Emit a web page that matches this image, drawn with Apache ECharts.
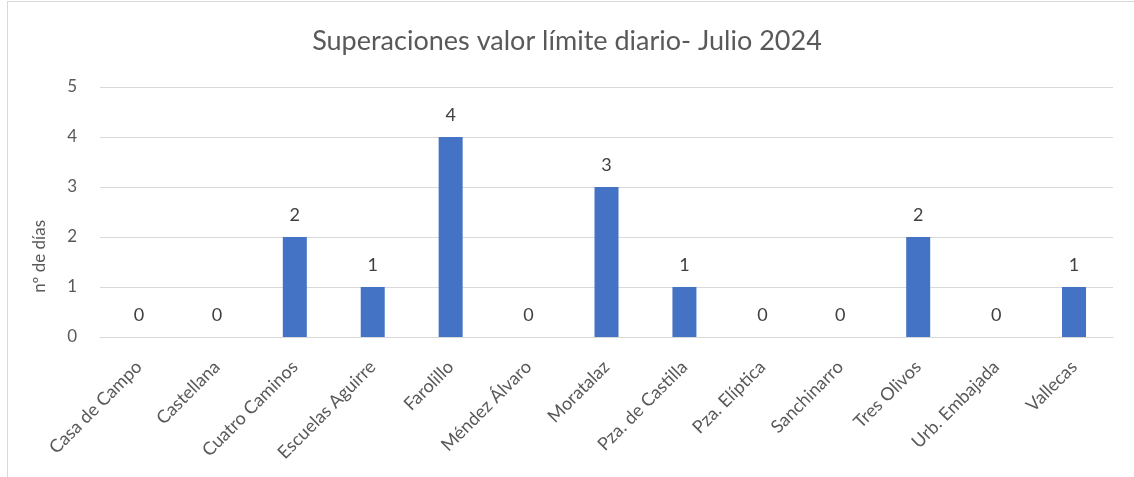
<!DOCTYPE html>
<html>
<head>
<meta charset="utf-8">
<script src="https://cdn.jsdelivr.net/npm/echarts@6/dist/echarts.min.js"></script>
<style>
  html, body { margin: 0; padding: 0; background: #fff; }
  #frame { position: absolute; left: 7px; top: 1px; width: 1140px; height: 490px;
           border-left: 1px solid #d9d9d9; border-top: 1px solid #d9d9d9; }
  #chart { position: absolute; left: 0; top: 0; width: 1134px; height: 477px; }
</style>
</head>
<body>
<div id="frame"></div>
<div id="chart"></div>
<script>
// stations and number of days over the daily limit
const stations = [
  "Casa de Campo", "Castellana", "Cuatro Caminos", "Escuelas Aguirre", "Farolillo",
  "Méndez Álvaro", "Moratalaz", "Pza. de Castilla", "Pza. Elíptica", "Sanchinarro",
  "Tres Olivos", "Urb. Embajada", "Vallecas"
]
const days = [0, 0, 2, 1, 4, 0, 3, 1, 0, 0, 2, 0, 1]
const yTicks = [0, 1, 2, 3, 4, 5]

const font = "Lato, 'Open Sans', sans-serif"
const grey = "#595959"

const chart = echarts.init(document.getElementById("chart"))
chart.setOption({
  animation: false,
  title: {
    text: "Superaciones valor límite diario- Julio 2024",
    left: "center",
    top: 23,
    textStyle: { fontFamily: font, fontSize: 27, fontWeight: "normal", color: grey }
  },
  grid: { left: 100, right: 21, top: 87, bottom: 140 },
  xAxis: {
    type: "category",
    data: stations,
    axisLine: { lineStyle: { color: "#d9d9d9", width: 1 } },
    axisTick: { show: false },
    axisLabel: { rotate: 45, margin: 27, interval: 0, fontFamily: font, fontSize: 18, color: grey }
  },
  yAxis: {
    type: "value",
    min: yTicks[0],
    max: yTicks[yTicks.length - 1],
    interval: 1,
    axisLine: { show: false },
    axisTick: { show: false },
    splitLine: { lineStyle: { color: "#d9d9d9", width: 1 } },
    axisLabel: { margin: 23, fontFamily: font, fontSize: 17, color: grey }
  },
  graphic: [{
    type: "text",
    left: 31,
    top: 220,
    rotation: Math.PI / 2,
    style: { text: "nº de días", fontFamily: font, fontSize: 17, fill: grey }
  }],
  series: [{
    type: "bar",
    data: days,
    barWidth: 24,
    itemStyle: { color: "#4472c4" },
    label: {
      show: true,
      position: "top",
      distance: 13,
      fontFamily: font,
      fontSize: 18,
      color: "#404040"
    }
  }]
})
</script>
</body>
</html>
